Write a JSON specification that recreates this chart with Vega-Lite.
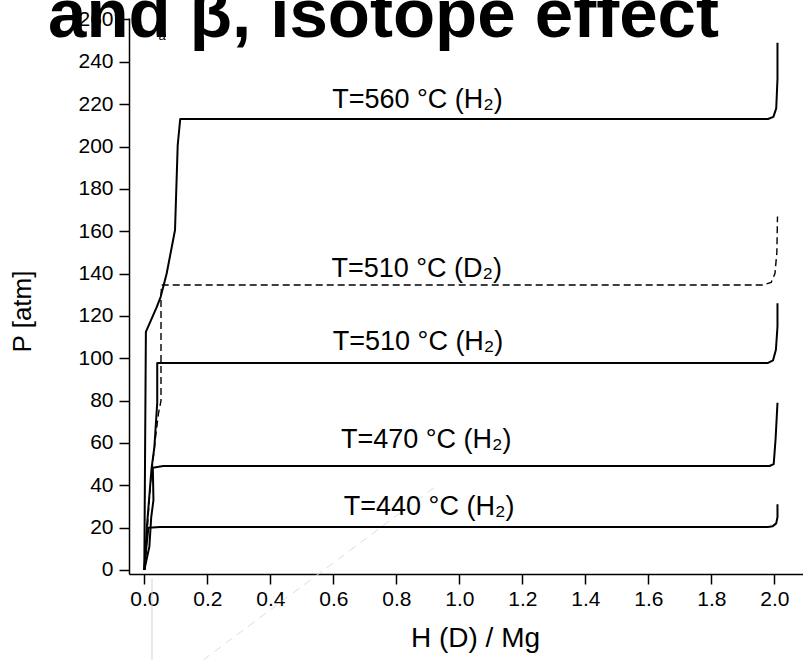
{
  "$schema": "https://vega.github.io/schema/vega-lite/v6.json",
  "width": 674,
  "height": 556,
  "autosize": {"type": "none"},
  "padding": {"left": 129, "top": 18, "right": 0, "bottom": 86},
  "background": "white",
  "config": {"view": {"stroke": null}, "font": "Liberation Sans"},
  "datasets": {
    "curves": [
      {"s": "440 H2", "i": 0, "h": 0.0, "p": 0},
      {"s": "440 H2", "i": 1, "h": 0.006, "p": 10},
      {"s": "440 H2", "i": 2, "h": 0.013, "p": 20},
      {"s": "440 H2", "i": 3, "h": 0.05, "p": 20.3},
      {"s": "440 H2", "i": 4, "h": 1.0, "p": 20.3},
      {"s": "440 H2", "i": 5, "h": 1.98, "p": 20.3},
      {"s": "440 H2", "i": 6, "h": 1.995, "p": 20.7},
      {"s": "440 H2", "i": 7, "h": 2.006, "p": 22},
      {"s": "440 H2", "i": 8, "h": 2.01, "p": 25},
      {"s": "440 H2", "i": 9, "h": 2.01, "p": 31},

      {"s": "470 H2", "i": 0, "h": 0.0, "p": 0},
      {"s": "470 H2", "i": 1, "h": 0.016, "p": 11},
      {"s": "470 H2", "i": 2, "h": 0.022, "p": 25},
      {"s": "470 H2", "i": 3, "h": 0.029, "p": 33},
      {"s": "470 H2", "i": 4, "h": 0.027, "p": 48.3},
      {"s": "470 H2", "i": 5, "h": 0.06, "p": 49.1},
      {"s": "470 H2", "i": 6, "h": 1.0, "p": 49.1},
      {"s": "470 H2", "i": 7, "h": 1.985, "p": 49.1},
      {"s": "470 H2", "i": 8, "h": 1.998, "p": 50},
      {"s": "470 H2", "i": 9, "h": 2.004, "p": 62},
      {"s": "470 H2", "i": 10, "h": 2.01, "p": 79},

      {"s": "510 H2", "i": 0, "h": 0.0, "p": 0},
      {"s": "510 H2", "i": 1, "h": 0.008, "p": 20},
      {"s": "510 H2", "i": 2, "h": 0.023, "p": 48},
      {"s": "510 H2", "i": 3, "h": 0.032, "p": 58},
      {"s": "510 H2", "i": 4, "h": 0.041, "p": 79},
      {"s": "510 H2", "i": 5, "h": 0.041, "p": 97.8},
      {"s": "510 H2", "i": 6, "h": 0.06, "p": 97.8},
      {"s": "510 H2", "i": 7, "h": 1.0, "p": 97.8},
      {"s": "510 H2", "i": 8, "h": 1.98, "p": 97.8},
      {"s": "510 H2", "i": 9, "h": 1.996, "p": 99},
      {"s": "510 H2", "i": 10, "h": 2.005, "p": 104},
      {"s": "510 H2", "i": 11, "h": 2.01, "p": 115},
      {"s": "510 H2", "i": 12, "h": 2.01, "p": 126},

      {"s": "510 D2", "i": 0, "h": 0.0, "p": 0},
      {"s": "510 D2", "i": 1, "h": 0.012, "p": 25},
      {"s": "510 D2", "i": 2, "h": 0.019, "p": 40},
      {"s": "510 D2", "i": 3, "h": 0.035, "p": 62},
      {"s": "510 D2", "i": 4, "h": 0.045, "p": 74},
      {"s": "510 D2", "i": 5, "h": 0.053, "p": 80},
      {"s": "510 D2", "i": 6, "h": 0.053, "p": 130},
      {"s": "510 D2", "i": 7, "h": 0.055, "p": 134.6},
      {"s": "510 D2", "i": 8, "h": 1.0, "p": 134.6},
      {"s": "510 D2", "i": 9, "h": 1.965, "p": 134.6},
      {"s": "510 D2", "i": 10, "h": 1.99, "p": 135.8},
      {"s": "510 D2", "i": 11, "h": 2.002, "p": 140},
      {"s": "510 D2", "i": 12, "h": 2.008, "p": 150},
      {"s": "510 D2", "i": 13, "h": 2.01, "p": 167},

      {"s": "560 H2", "i": 0, "h": 0.0, "p": 0},
      {"s": "560 H2", "i": 1, "h": 0.005, "p": 112.5},
      {"s": "560 H2", "i": 2, "h": 0.039, "p": 124},
      {"s": "560 H2", "i": 3, "h": 0.052, "p": 129},
      {"s": "560 H2", "i": 4, "h": 0.071, "p": 140},
      {"s": "560 H2", "i": 5, "h": 0.0975, "p": 160.6},
      {"s": "560 H2", "i": 6, "h": 0.106, "p": 200.6},
      {"s": "560 H2", "i": 7, "h": 0.114, "p": 213},
      {"s": "560 H2", "i": 8, "h": 1.0, "p": 213},
      {"s": "560 H2", "i": 9, "h": 1.98, "p": 213},
      {"s": "560 H2", "i": 10, "h": 1.997, "p": 214},
      {"s": "560 H2", "i": 11, "h": 2.006, "p": 218},
      {"s": "560 H2", "i": 12, "h": 2.01, "p": 232},
      {"s": "560 H2", "i": 13, "h": 2.01, "p": 249}
    ],
    "labels": [
      {"lx": 0.867, "ly": 218.0, "label": "T=560 °C (H₂)"},
      {"lx": 0.865, "ly": 138.2, "label": "T=510 °C (D₂)"},
      {"lx": 0.869, "ly": 103.9, "label": "T=510 °C (H₂)"},
      {"lx": 0.895, "ly": 57.5, "label": "T=470 °C (H₂)"},
      {"lx": 0.904, "ly": 26.0, "label": "T=440 °C (H₂)"}
    ],
    "heading": [
      {"hx": -0.3057, "hy": 251.9, "text": "and β, isotope effect"}
    ],
    "sub": [
      {"hx": 0.0562, "hy": 250.5, "text": "a"}
    ],
    "guides": [
      {"g": "diagonal", "gi": 0, "gx": 0.187, "gy": -42.5},
      {"g": "diagonal", "gi": 1, "gx": 0.93, "gy": 40},
      {"g": "upright", "gi": 0, "gx": 0.0244, "gy": -4},
      {"g": "upright", "gi": 1, "gx": 0.0244, "gy": -42.5}
    ]
  },
  "layer": [
    {
      "data": {"name": "guides"},
      "transform": [{"filter": "datum.g === 'diagonal'"}],
      "mark": {"type": "line", "color": "#dddddd", "strokeWidth": 1, "strokeDash": [8, 6]},
      "encoding": {
        "x": {"field": "gx", "type": "quantitative", "scale": {"domain": [-0.0486, 2.091], "nice": false, "zero": false},
          "axis": {
            "values": [0, 0.1, 0.2, 0.3, 0.4, 0.5, 0.6, 0.7, 0.8, 0.9, 1.0, 1.1, 1.2, 1.3, 1.4, 1.5, 1.6, 1.7, 1.8, 1.9, 2.0],
            "labelExpr": "round(datum.value * 10) % 2 === 0 ? format(datum.value, '.1f') : ''",
            "tickSize": {"condition": {"test": "round(datum.value * 10) % 2 === 0", "value": 10}, "value": 5},
            "title": "H (D) / Mg",
            "titleX": 346,
            "grid": false,
            "labelFontSize": 21,
            "labelColor": "black",
            "labelPadding": 4,
            "labelFlush": false,
            "labelOverlap": false,
            "titleFontSize": 28,
            "titleFontWeight": "normal",
            "titleColor": "black",
            "titlePadding": 15,
            "domainColor": "black",
            "domainWidth": 1.5,
            "tickColor": "black",
            "tickWidth": 1.5
          }
        },
        "y": {"field": "gy", "type": "quantitative", "scale": {"domain": [-1.9, 260.7], "nice": false, "zero": false},
          "axis": {
            "values": [0, 10, 20, 30, 40, 50, 60, 70, 80, 90, 100, 110, 120, 130, 140, 150, 160, 170, 180, 190, 200, 210, 220, 230, 240, 250, 260],
            "labelExpr": "datum.value % 20 === 0 ? datum.label : ''",
            "tickSize": {"condition": {"test": "datum.value % 20 === 0", "value": 10}, "value": 5},
            "title": "P [atm]",
            "titleY": 293,
            "grid": false,
            "labelFontSize": 21,
            "labelColor": "black",
            "labelPadding": 6,
            "labelFlush": false,
            "labelOverlap": false,
            "titleFontSize": 26,
            "titleFontWeight": "normal",
            "titleColor": "black",
            "titlePadding": 42,
            "domainColor": "black",
            "domainWidth": 1.5,
            "tickColor": "black",
            "tickWidth": 1.5
          }
        },
        "order": {"field": "gi", "type": "quantitative"}
      }
    },
    {
      "data": {"name": "guides"},
      "transform": [{"filter": "datum.g === 'upright'"}],
      "mark": {"type": "line", "color": "#d4d4d4", "strokeWidth": 1},
      "encoding": {
        "x": {"field": "gx", "type": "quantitative"},
        "y": {"field": "gy", "type": "quantitative"},
        "order": {"field": "gi", "type": "quantitative"}
      }
    },
    {
      "data": {"name": "curves"},
      "transform": [{"filter": "datum.s !== '510 D2'"}],
      "mark": {"type": "line", "color": "black", "strokeWidth": 2, "strokeJoin": "round"},
      "encoding": {
        "x": {"field": "h", "type": "quantitative"},
        "y": {"field": "p", "type": "quantitative"},
        "detail": {"field": "s"},
        "order": {"field": "i", "type": "quantitative"}
      }
    },
    {
      "data": {"name": "curves"},
      "transform": [{"filter": "datum.s === '510 D2'"}],
      "mark": {"type": "line", "color": "black", "strokeWidth": 1.4, "strokeDash": [7, 4]},
      "encoding": {
        "x": {"field": "h", "type": "quantitative"},
        "y": {"field": "p", "type": "quantitative"},
        "order": {"field": "i", "type": "quantitative"}
      }
    },
    {
      "data": {"name": "labels"},
      "mark": {"type": "text", "fontSize": 27, "align": "center", "baseline": "alphabetic", "color": "black"},
      "encoding": {
        "x": {"field": "lx", "type": "quantitative"},
        "y": {"field": "ly", "type": "quantitative"},
        "text": {"field": "label"}
      }
    },
    {
      "data": {"name": "sub"},
      "mark": {"type": "text", "fontSize": 13, "align": "center", "baseline": "alphabetic", "color": "black"},
      "encoding": {
        "x": {"field": "hx", "type": "quantitative"},
        "y": {"field": "hy", "type": "quantitative"},
        "text": {"field": "text"}
      }
    },
    {
      "data": {"name": "heading"},
      "mark": {"type": "text", "fontSize": 69, "fontWeight": "bold", "align": "left", "baseline": "alphabetic", "color": "black"},
      "encoding": {
        "x": {"field": "hx", "type": "quantitative"},
        "y": {"field": "hy", "type": "quantitative"},
        "text": {"field": "text"}
      }
    }
  ]
}
